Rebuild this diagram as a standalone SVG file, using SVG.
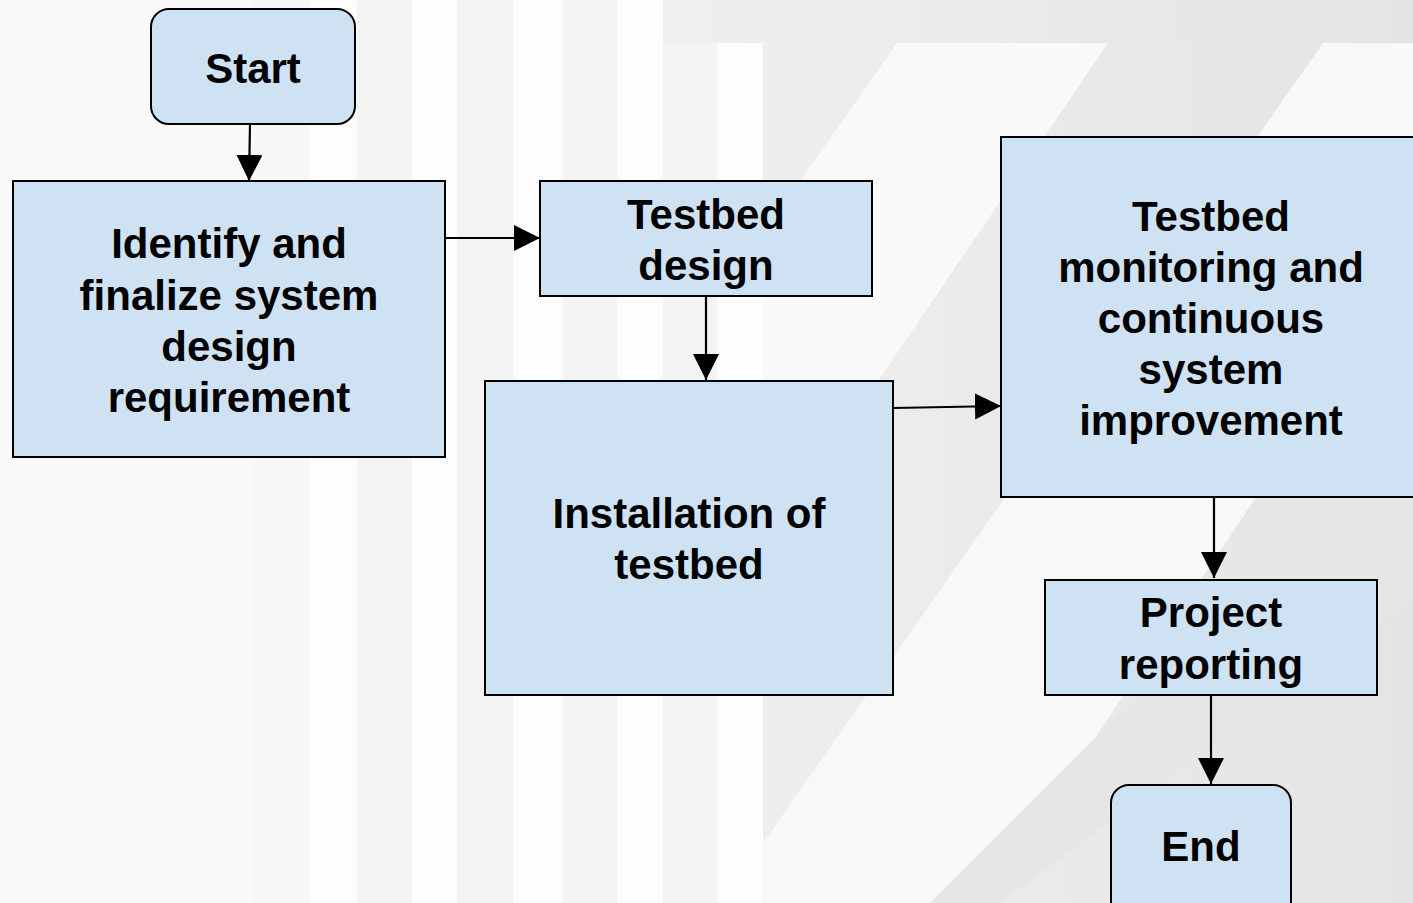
<svg xmlns="http://www.w3.org/2000/svg" width="1413" height="903" viewBox="0 0 1413 903">
  <defs>
    <style>
      .box { fill: #cfe2f3; stroke: #000; stroke-width: 2; }
      .lbl { font-family: "Liberation Sans", Arial, sans-serif; font-weight: bold; font-size: 42px; fill: #000; text-anchor: middle; }
      .conn { stroke: #000; stroke-width: 2.2; fill: none; marker-end: url(#arrow); }
      .band { fill: #f3f3f3; }
      .wband { fill: #fdfdfd; }
    </style>
    <marker id="arrow" markerUnits="userSpaceOnUse" markerWidth="27" markerHeight="27" refX="26" refY="13" orient="auto">
      <path d="M0,0 L26,13 L0,26 Z" fill="#000"/>
    </marker>
    <linearGradient id="rg" x1="0" y1="0" x2="1" y2="0">
      <stop offset="0" stop-color="#eeeeee"/>
      <stop offset="1" stop-color="#e4e4e4"/>
    </linearGradient>
    <linearGradient id="tg" x1="0" y1="0" x2="1" y2="0">
      <stop offset="0" stop-color="#efefef"/>
      <stop offset="1" stop-color="#e4e4e4"/>
    </linearGradient>
  </defs>

  <!-- background -->
  <g id="background">
    <rect x="0" y="0" width="1413" height="903" fill="#f9f9f9"/>
    <rect x="42" y="0" width="103" height="903" fill="#fafafa"/>
    <rect x="253" y="0" width="57" height="903" fill="#f7f7f7"/>
    <rect class="wband" x="310" y="0" width="47" height="903"/>
    <rect class="band" x="357" y="0" width="55" height="903" fill="#f4f4f4"/>
    <rect class="wband" x="412" y="0" width="45" height="903"/>
    <rect class="band" x="457" y="0" width="56" height="903"/>
    <rect class="wband" x="513" y="0" width="50" height="903"/>
    <rect class="band" x="563" y="0" width="54" height="903"/>
    <rect class="wband" x="617" y="0" width="46" height="903"/>
    <rect class="band" x="663" y="0" width="54" height="903" fill="#f1f1f1"/>
    <rect class="wband" x="717" y="0" width="46" height="903"/>
    <rect x="763" y="0" width="650" height="903" fill="url(#rg)"/>
    <rect x="663" y="0" width="750" height="43" fill="url(#tg)"/>
    <polygon points="897,43 1108,43 763,550 763,234" fill="#f9f9f9"/>
    <polygon points="1323,43 1560,43 1000,880 930,903 763,903 763,843" fill="#f8f8f8"/>
    <polygon points="1413,420 1413,600 1000,903 930,903" fill="#e6e6e6"/>
  </g>

  <!-- connectors -->
  <g id="connectors">
    <line class="conn" x1="250" y1="124" x2="249" y2="181"/>
    <line class="conn" x1="445" y1="238" x2="540" y2="238"/>
    <line class="conn" x1="706" y1="296" x2="706" y2="380"/>
    <line class="conn" x1="893" y1="408" x2="1001" y2="406"/>
    <line class="conn" x1="1214" y1="497" x2="1214" y2="578"/>
    <line class="conn" x1="1211" y1="696" x2="1211" y2="784"/>
  </g>

  <g id="start">
    <rect class="box" x="151" y="9" width="204" height="115" rx="18" ry="18"/>
    <text class="lbl" x="253" y="83">Start</text>
  </g>

  <g id="identify">
    <rect class="box" x="13" y="181" width="432" height="276"/>
    <text class="lbl" x="229" y="258">Identify and</text>
    <text class="lbl" x="229" y="310">finalize system</text>
    <text class="lbl" x="229" y="361">design</text>
    <text class="lbl" x="229" y="412">requirement</text>
  </g>

  <g id="testbed-design">
    <rect class="box" x="540" y="181" width="332" height="115"/>
    <text class="lbl" x="706" y="229">Testbed</text>
    <text class="lbl" x="706" y="280">design</text>
  </g>

  <g id="installation">
    <rect class="box" x="485" y="381" width="408" height="314"/>
    <text class="lbl" x="689" y="528">Installation of</text>
    <text class="lbl" x="689" y="579">testbed</text>
  </g>

  <g id="monitoring">
    <rect class="box" x="1001" y="137" width="420" height="360"/>
    <text class="lbl" x="1211" y="231">Testbed</text>
    <text class="lbl" x="1211" y="282">monitoring and</text>
    <text class="lbl" x="1211" y="333">continuous</text>
    <text class="lbl" x="1211" y="384">system</text>
    <text class="lbl" x="1211" y="435">improvement</text>
  </g>

  <g id="project-reporting">
    <rect class="box" x="1045" y="580" width="332" height="115"/>
    <text class="lbl" x="1211" y="627">Project</text>
    <text class="lbl" x="1211" y="679">reporting</text>
  </g>

  <g id="end">
    <rect class="box" x="1111" y="785" width="180" height="140" rx="18" ry="18"/>
    <text class="lbl" x="1201" y="861">End</text>
  </g>
</svg>
